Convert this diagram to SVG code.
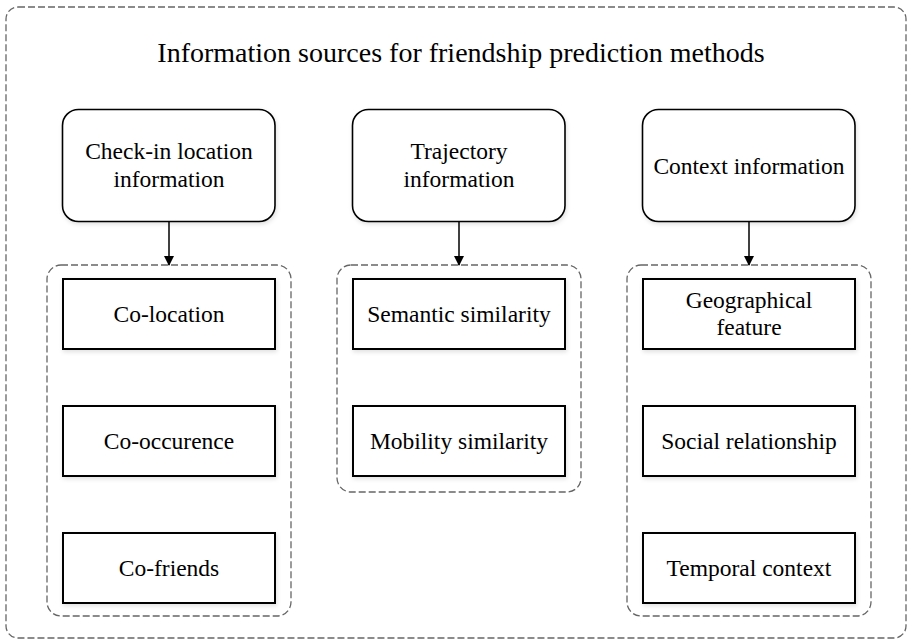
<svg xmlns="http://www.w3.org/2000/svg" width="910" height="641" viewBox="0 0 910 641">
<style>
.t{font-family:"Liberation Serif","Times New Roman",serif;fill:#000;text-anchor:middle}
.title{font-size:28px}
.lbl{font-size:23.5px}
.src{fill:#fff;stroke:#000;stroke-width:1.6}
.box{fill:#fff;stroke:#000;stroke-width:2}
.grp{fill:none;stroke:#666;stroke-width:1.3;stroke-dasharray:7 3}
.conn{stroke:#000;stroke-width:1.5;fill:none}
</style>
<defs>
<marker id="ah" markerWidth="10" markerHeight="10" refX="9" refY="5" orient="auto" markerUnits="userSpaceOnUse">
<path d="M0,0 L10,5 L0,10 Z" fill="#000"/>
</marker>
<filter id="sh" x="-10%" y="-10%" width="120%" height="130%">
<feDropShadow dx="1" dy="2" stdDeviation="2" flood-color="#000" flood-opacity="0.12"/>
</filter>
</defs>
<rect id="outer" class="grp" x="6" y="7" width="900" height="631" rx="12"/>
<text class="t title" x="461" y="62">Information sources for friendship prediction methods</text>

<g id="src-checkin">
<rect class="src" filter="url(#sh)" x="62.5" y="109.5" width="212.5" height="112" rx="16"/>
<text class="t lbl" x="169" y="159">Check-in location</text>
<text class="t lbl" x="169" y="187">information</text>
</g>
<g id="src-trajectory">
<rect class="src" filter="url(#sh)" x="352.5" y="109.5" width="212.5" height="112" rx="16"/>
<text class="t lbl" x="459" y="159">Trajectory</text>
<text class="t lbl" x="459" y="187">information</text>
</g>
<g id="src-context">
<rect class="src" filter="url(#sh)" x="642.5" y="109.5" width="212.5" height="112" rx="16"/>
<text class="t lbl" x="749" y="174">Context information</text>
</g>

<g id="grp-checkin"><rect class="grp" x="47" y="265" width="244" height="351" rx="14"/></g>
<g id="grp-trajectory"><rect class="grp" x="337" y="265" width="244" height="227" rx="14"/></g>
<g id="grp-context"><rect class="grp" x="627" y="265" width="244" height="351" rx="14"/></g>

<g id="co-location"><rect class="box" filter="url(#sh)" x="63" y="279" width="212" height="70"/><text class="t lbl" x="169" y="322">Co-location</text></g>
<g id="co-occurence"><rect class="box" filter="url(#sh)" x="63" y="406" width="212" height="70"/><text class="t lbl" x="169" y="449">Co-occurence</text></g>
<g id="co-friends"><rect class="box" filter="url(#sh)" x="63" y="533" width="212" height="70"/><text class="t lbl" x="169" y="576">Co-friends</text></g>

<g id="semantic"><rect class="box" filter="url(#sh)" x="353" y="279" width="212" height="70"/><text class="t lbl" x="459" y="322">Semantic similarity</text></g>
<g id="mobility"><rect class="box" filter="url(#sh)" x="353" y="406" width="212" height="70"/><text class="t lbl" x="459" y="449">Mobility similarity</text></g>

<g id="geo"><rect class="box" filter="url(#sh)" x="643" y="279" width="212" height="70"/><text class="t lbl" x="749" y="308">Geographical</text><text class="t lbl" x="749" y="335">feature</text></g>
<g id="social"><rect class="box" filter="url(#sh)" x="643" y="406" width="212" height="70"/><text class="t lbl" x="749" y="449">Social relationship</text></g>
<g id="temporal"><rect class="box" filter="url(#sh)" x="643" y="533" width="212" height="70"/><text class="t lbl" x="749" y="576">Temporal context</text></g>

<g id="connectors">
<line class="conn" x1="169" y1="222" x2="169" y2="265" marker-end="url(#ah)"/>
<line class="conn" x1="459" y1="222" x2="459" y2="265" marker-end="url(#ah)"/>
<line class="conn" x1="749" y1="222" x2="749" y2="265" marker-end="url(#ah)"/>
</g>
</svg>
